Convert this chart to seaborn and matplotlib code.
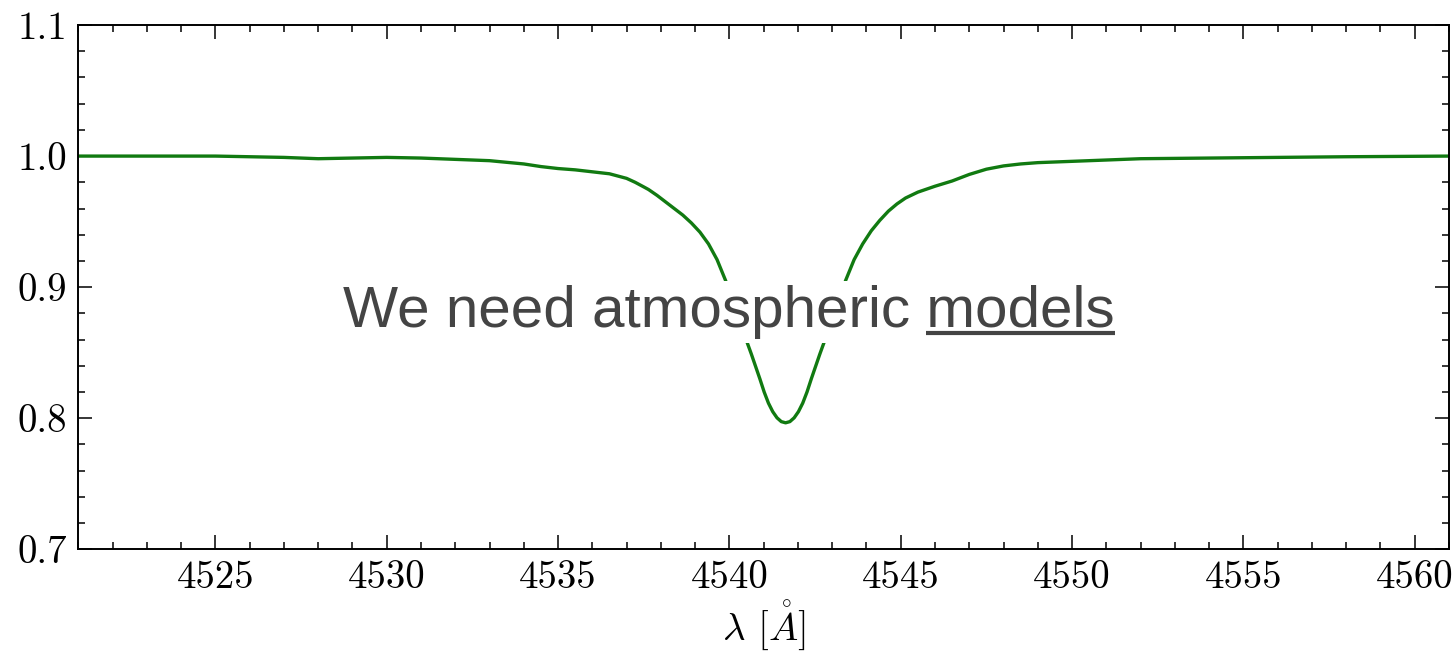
import matplotlib
matplotlib.use("Agg")
import matplotlib.pyplot as plt
import seaborn as sns
import pandas as pd
from matplotlib.ticker import AutoMinorLocator
from matplotlib.lines import Line2D

# Synthetic line profile: wavelength (Angstrom) and normalised flux
wavelength = [
    4521.0, 4523.0, 4525.0, 4526.0, 4527.0, 4528.0, 4529.0, 4530.0, 4531.0,
    4532.0, 4533.0, 4534.0, 4534.5, 4535.0, 4535.5, 4536.0, 4536.5, 4537.0,
    4537.25, 4537.5, 4537.64, 4537.89, 4538.14, 4538.39, 4538.64, 4538.89,
    4539.14, 4539.39, 4539.64, 4539.89, 4540.14, 4540.39, 4540.64, 4540.89,
    4541.015, 4541.14, 4541.265, 4541.39, 4541.515, 4541.64, 4541.765,
    4541.89, 4542.015, 4542.14, 4542.265, 4542.39, 4542.64, 4542.89,
    4543.14, 4543.39, 4543.64, 4543.89, 4544.14, 4544.39, 4544.64, 4544.89,
    4545.14, 4545.5, 4546.0, 4546.5, 4547.0, 4547.5, 4548.0, 4548.5, 4549.0,
    4550.0, 4551.0, 4552.0, 4554.0, 4556.0, 4558.0, 4561.0,
]
flux = [
    1.000, 1.000, 1.000, 0.9995, 0.999, 0.998, 0.9985, 0.999, 0.9985,
    0.9975, 0.9965, 0.994, 0.992, 0.9905, 0.9895, 0.988, 0.9865, 0.983,
    0.980, 0.9765, 0.9745, 0.970, 0.965, 0.960, 0.955, 0.949,
    0.942, 0.933, 0.921, 0.905, 0.886, 0.867, 0.849, 0.830,
    0.820, 0.8115, 0.805, 0.8003, 0.7974, 0.7965, 0.7974,
    0.8003, 0.805, 0.8115, 0.820, 0.830, 0.849, 0.867,
    0.886, 0.905, 0.921, 0.933, 0.943, 0.951, 0.958, 0.9635,
    0.968, 0.9725, 0.977, 0.981, 0.986, 0.990, 0.9925, 0.994, 0.995,
    0.996, 0.997, 0.998, 0.9985, 0.999, 0.9995, 1.000,
]

x_ticks = [4525, 4530, 4535, 4540, 4545, 4550, 4555, 4560]
y_ticks = [0.7, 0.8, 0.9, 1.0, 1.1]

sns.set_theme(style="ticks")
plt.rcParams.update({
    "font.family": "serif",
    "font.serif": ["cmr10"],
    "mathtext.fontset": "cm",
    "axes.formatter.use_mathtext": True,
    "axes.unicode_minus": False,
    "axes.linewidth": 1.4,
    "axes.edgecolor": "black",
})

df = pd.DataFrame({"wavelength": wavelength, "flux": flux})

fig = plt.figure(figsize=(14.55, 6.55), dpi=100)
ax = fig.add_axes([0.0538, 0.1614, 0.9421, 0.8004])

sns.lineplot(data=df, x="wavelength", y="flux", color="#117a11",
             linewidth=2.4, estimator=None, ax=ax,
             solid_joinstyle="round", solid_capstyle="round")

ax.set_xlim(4521, 4561)
ax.set_ylim(0.7, 1.1)
ax.set_xticks(x_ticks)
ax.set_yticks(y_ticks)
ax.set_xticklabels([str(v) for v in x_ticks])
ax.set_yticklabels([f"{v:.1f}" for v in y_ticks])
ax.xaxis.set_minor_locator(AutoMinorLocator(5))
ax.yaxis.set_minor_locator(AutoMinorLocator(5))
ax.tick_params(which="both", direction="in", top=True, right=True,
               colors="black", labelsize=28, pad=8)
ax.tick_params(which="major", length=10, width=1.1)
ax.tick_params(which="minor", length=5, width=1.1)

ax.set_ylabel("")
ax.set_xlabel(r"$\lambda$ [$\mathring{A}$]", fontsize=28, labelpad=1,
              color="black")

# Overlay caption with white backing and underlined last word
caption = "We need atmospheric models"
last_word = "models"
cap_kw = dict(fontsize=42, color="#444444", family="Liberation Sans",
              va="baseline", ha="left")
x0, y0 = 343 / 1455, 1 - 327 / 655
cap = fig.text(x0, y0, caption, zorder=5,
               bbox=dict(facecolor="white", edgecolor="none", pad=3), **cap_kw)
fig.canvas.draw()
renderer = fig.canvas.get_renderer()
probe = fig.text(0, 0, last_word, **cap_kw)
w_word = probe.get_window_extent(renderer).width
probe.remove()
probe_full = fig.text(0, 0, caption, **cap_kw)
full_ext = probe_full.get_window_extent(renderer)
probe_full.remove()
right_px = x0 * 1455 + full_ext.width
left_px = right_px - w_word
uy = 1 - 332.5 / 655
fig.add_artist(Line2D([left_px / 1455, right_px / 1455], [uy, uy],
                      transform=fig.transFigure, color="#444444",
                      linewidth=3, zorder=6, solid_capstyle="butt"))

fig.savefig("out.png", dpi=100)
